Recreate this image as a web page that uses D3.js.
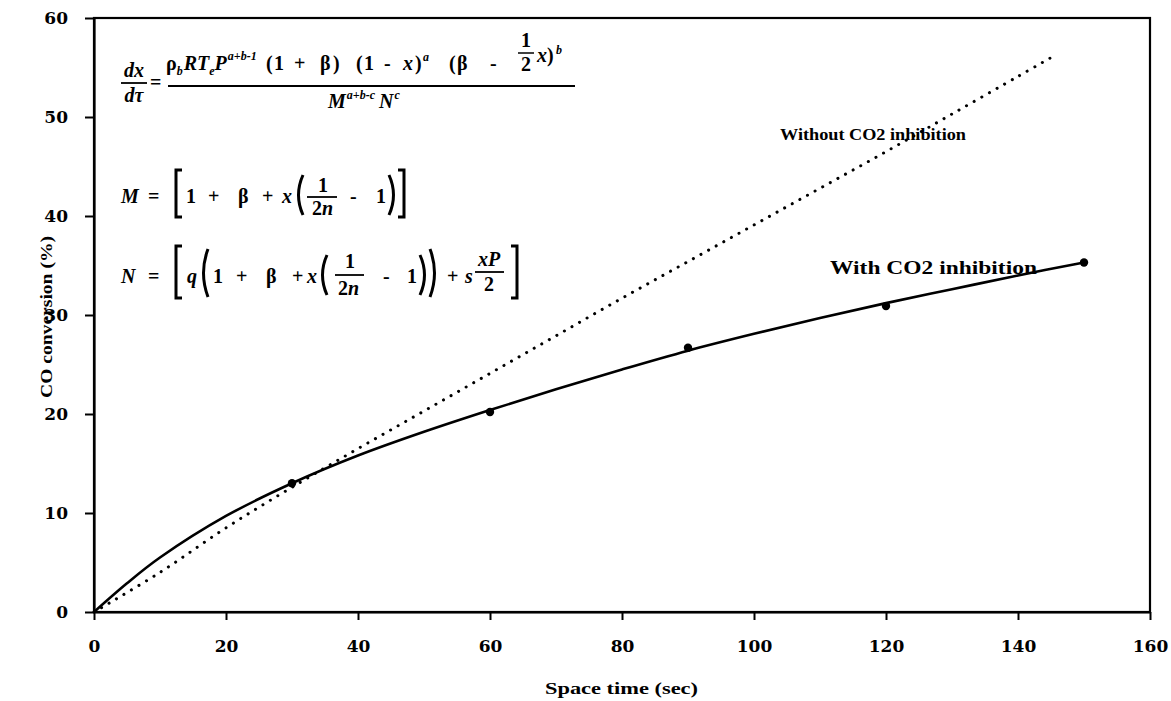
<!DOCTYPE html>
<html>
<head>
<meta charset="utf-8">
<script src="https://cdn.jsdelivr.net/npm/d3@7"></script>
<style>
  html, body { margin: 0; padding: 0; background: #fff; }
  svg { display: block; }
  text { font-family: "Liberation Serif", "DejaVu Serif", serif; font-weight: bold; fill: #000; }
</style>
</head>
<body>
<svg id="chart" width="1171" height="701"></svg>
<script>
// Space time (s) against CO conversion (%)
const xTicks = [0, 20, 40, 60, 80, 100, 120, 140, 160];
const yTicks = [0, 10, 20, 30, 40, 50, 60];

// measured conversions
const measuredTime = [30, 60, 90, 120, 150];
const measuredConv = [13.0, 20.2, 26.7, 30.9, 35.3];

// model with CO2 inhibition
const fitTime = [0, 5, 10, 20, 30, 40, 50, 60, 70, 80, 90, 100, 110, 120, 130, 140, 150];
const fitConv = [0, 2.9, 5.5, 9.7, 13.0, 15.8, 18.2, 20.4, 22.5, 24.5, 26.4, 28.1, 29.7, 31.2, 32.6, 34.0, 35.3];

// model without CO2 inhibition
const noInhTime = [0, 10, 20, 30, 40, 50, 60, 70, 80, 90, 100, 110, 120, 130, 140, 145];
const noInhConv = [0, 4.0, 8.5, 12.6, 16.5, 20.3, 24.1, 27.9, 31.7, 35.4, 39.1, 42.8, 46.5, 50.3, 54.1, 56.0];

const svg = d3.select("#chart");
const x = d3.scaleLinear().domain([0, 160]).range([94, 1150]);
const y = d3.scaleLinear().domain([0, 60]).range([612, 18]);

// frame
svg.append("rect")
  .attr("x", x(0)).attr("y", y(60))
  .attr("width", x(160) - x(0)).attr("height", y(0) - y(60))
  .attr("fill", "none").attr("stroke", "#000").attr("stroke-width", 2.2);

const xAxis = svg.append("g")
  .attr("transform", `translate(0,${y(0)})`)
  .call(d3.axisBottom(x).tickValues(xTicks).tickSize(8).tickPadding(20).tickSizeOuter(0));
const yAxis = svg.append("g")
  .attr("transform", `translate(${x(0)},0)`)
  .call(d3.axisLeft(y).tickValues(yTicks).tickSize(9).tickPadding(17).tickSizeOuter(0));
[xAxis, yAxis].forEach(a => {
  a.select(".domain").attr("stroke-width", 2.2);
  a.selectAll(".tick line").attr("stroke-width", 2);
  a.selectAll(".tick text")
    .style("font-family", '"DejaVu Serif", serif')
    .style("font-weight", "bold")
    .style("font-size", "17px");
});

// curves
const line = d3.line().x(d => x(d[0])).y(d => y(d[1])).curve(d3.curveCatmullRom);
svg.append("path")
  .datum(noInhTime.map((t, i) => [t, noInhConv[i]]))
  .attr("d", line)
  .attr("fill", "none").attr("stroke", "#000")
  .attr("stroke-width", 3).attr("stroke-linecap", "round")
  .attr("stroke-dasharray", "0.1 8.6");
svg.append("path")
  .datum(fitTime.map((t, i) => [t, fitConv[i]]))
  .attr("d", line)
  .attr("fill", "none").attr("stroke", "#000").attr("stroke-width", 2.6);
svg.append("g").selectAll("circle")
  .data(measuredTime.map((t, i) => [t, measuredConv[i]]))
  .join("circle")
  .attr("cx", d => x(d[0])).attr("cy", d => y(d[1])).attr("r", 4.2)
  .attr("fill", "#000");

// curve labels and axis titles
svg.append("text").attr("x", 780).attr("y", 140)
  .attr("font-size", 17).attr("textLength", 186).attr("lengthAdjust", "spacingAndGlyphs")
  .text("Without CO2 inhibition");
svg.append("text").attr("x", 830).attr("y", 274)
  .attr("font-size", 18).attr("textLength", 207).attr("lengthAdjust", "spacingAndGlyphs")
  .text("With CO2 inhibition");
svg.append("text").attr("x", 545).attr("y", 694)
  .attr("font-size", 17).attr("textLength", 153).attr("lengthAdjust", "spacingAndGlyphs")
  .text("Space time (sec)");
svg.append("text").attr("transform", "translate(52,398) rotate(-90)")
  .attr("font-size", 17).attr("textLength", 162).attr("lengthAdjust", "spacingAndGlyphs")
  .text("CO conversion (%)");

// rate equation
const eq = svg.append("g");
const FS = 20, SS = 12;
function piece(px, py, s, opt = {}) {
  const el = eq.append("text").attr("x", px).attr("y", py)
    .attr("font-size", opt.sz || FS)
    .attr("font-style", opt.it ? "italic" : "normal")
    .attr("text-anchor", opt.anchor || "start")
    .text(s);
  return px + el.node().getComputedTextLength();
}
function rule(x1, x2, ly, w = 1.8) {
  eq.append("line").attr("x1", x1).attr("x2", x2).attr("y1", ly).attr("y2", ly)
    .attr("stroke", "#000").attr("stroke-width", w);
}
function bracket(bx, top, bot, kind) {
  let d;
  if (kind === "[") d = `M${bx + 7},${top}H${bx + 1}V${bot}H${bx + 7}`;
  if (kind === "]") d = `M${bx},${top}H${bx + 6}V${bot}H${bx}`;
  if (kind === "(") d = `M${bx + 7},${top}Q${bx - 2},${(top + bot) / 2} ${bx + 7},${bot}`;
  if (kind === ")") d = `M${bx},${top}Q${bx + 9},${(top + bot) / 2} ${bx},${bot}`;
  eq.append("path").attr("d", d).attr("fill", "none").attr("stroke", "#000").attr("stroke-width", 3);
}

// dx/dτ
piece(134, 77, "dx", { it: true, anchor: "middle" });
rule(121, 147, 83);
piece(134, 102, "dτ", { it: true, anchor: "middle" });
piece(150, 89, "=");
rule(168, 575, 86);
// numerator
let cx = 166;
cx = piece(cx, 70, "ρ");
cx = piece(cx, 75, "b", { it: true, sz: SS }) + 1;
cx = piece(cx, 70, "RT", { it: true });
cx = piece(cx, 75, "e", { it: true, sz: SS });
cx = piece(cx, 70, "P", { it: true }) + 1;
piece(cx, 60, "a+b-1", { it: true, sz: SS });
piece(266, 70, "(");
piece(274, 70, "1");
piece(294, 70, "+");
piece(320, 70, "β");
piece(333, 70, ")");
piece(356, 70, "(");
piece(364, 70, "1");
piece(384, 70, "-");
piece(403, 70, "x", { it: true });
piece(415, 70, ")");
piece(423, 61, "a", { it: true, sz: SS });
piece(449, 70, "(");
piece(457, 70, "β");
piece(490, 70, "-");
piece(526, 47, "1", { anchor: "middle" });
rule(518, 534, 53, 1.5);
piece(526, 71, "2", { anchor: "middle" });
piece(537, 62, "x", { it: true });
piece(547, 62, ")");
piece(556, 54, "b", { it: true, sz: SS });
// denominator
let dx0 = 328;
dx0 = piece(dx0, 108, "M", { it: true }) + 1;
dx0 = piece(dx0, 99, "a+b-c", { it: true, sz: SS }) + 4;
dx0 = piece(dx0, 108, "N", { it: true }) + 1;
piece(dx0, 99, "c", { it: true, sz: SS });

// M definition
piece(121, 203, "M", { it: true });
piece(148, 203, "=");
bracket(175, 170, 217, "[");
piece(186, 203, "1");
piece(208, 203, "+");
piece(238, 203, "β");
piece(262, 203, "+");
piece(282, 203, "x", { it: true });
bracket(296, 175, 215, "(");
piece(323, 192, "1", { anchor: "middle" });
rule(307, 337, 197);
piece(312, 215, "2");
piece(322, 215, "n", { it: true });
piece(350, 203, "-");
piece(376, 203, "1");
bracket(389, 175, 215, ")");
bracket(398, 170, 217, "]");

// N definition
piece(121, 283, "N", { it: true });
piece(148, 283, "=");
bracket(175, 246, 298, "[");
piece(187, 283, "q", { it: true });
bracket(201, 249, 297, "(");
piece(213, 283, "1");
piece(236, 283, "+");
piece(266, 283, "β");
piece(292, 283, "+");
piece(307, 283, "x", { it: true });
bracket(320, 255, 295, "(");
piece(350, 268, "1", { anchor: "middle" });
rule(335, 364, 275);
piece(338, 295, "2");
piece(348, 295, "n", { it: true });
piece(383, 283, "-");
piece(407, 283, "1");
bracket(420, 255, 295, ")");
bracket(430, 249, 297, ")");
piece(447, 283, "+");
piece(465, 283, "s", { it: true });
piece(489, 266, "xP", { it: true, anchor: "middle" });
rule(475, 504, 272);
piece(489, 291, "2", { anchor: "middle" });
bracket(511, 246, 298, "]");
</script>
</body>
</html>
